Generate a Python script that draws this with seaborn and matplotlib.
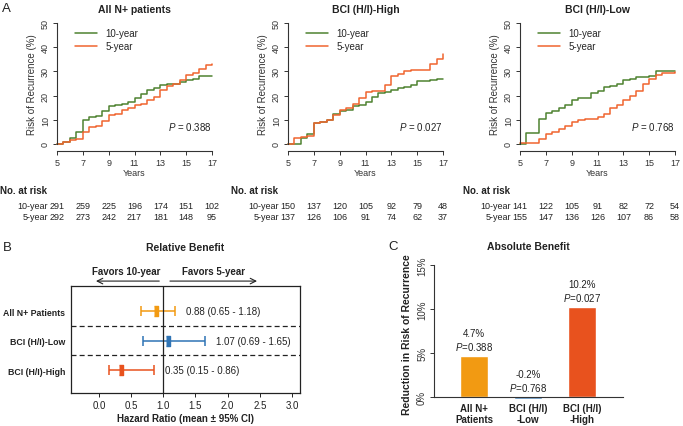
import numpy as np
import pandas as pd
import matplotlib
matplotlib.use("Agg")
import matplotlib.pyplot as plt
import matplotlib.transforms as mtransforms
import seaborn as sns

# ---------------- data ----------------
years = [5, 5.5, 6, 6.5, 7, 7.5, 8, 8.5, 9, 9.5, 10, 10.5, 11, 11.5, 12, 12.5,
         13, 13.5, 14, 14.5, 15, 15.5, 16, 16.5, 17]

all_10 = [0, 1, 2.5, 5, 10, 11, 11.5, 13.5, 15.5, 16, 16.5, 17.5, 19, 20.5, 22.5, 23,
          24.5, 25, 25, 25.5, 26.5, 27, 28, 28.3, 28.3]
all_5 = [0, 1, 1.5, 2, 5, 7, 7.5, 9.5, 12, 12.5, 14, 15, 16, 16.5, 18, 19.5,
         22.5, 24, 25, 26.5, 28.5, 29.5, 31, 32.5, 33]
high_10 = [0, 0, 2.5, 4, 8.5, 9, 10, 12.5, 13.5, 14, 15.5, 16, 17.5, 19.5, 21, 21.5,
           22.5, 23, 23.5, 24.5, 26, 26, 26.5, 27, 27]
high_5 = [0, 2.5, 3, 3.5, 8.5, 9, 10, 12, 14, 15, 16.5, 19, 21.5, 22, 22, 24.5,
          28, 29, 30, 30.5, 30.5, 30.5, 33, 35, 37]
low_10 = [0, 4.5, 4.5, 10.5, 13, 13.5, 15, 16, 18, 19, 19, 21, 22, 23.5, 24, 25,
          26.5, 27, 27.5, 27.5, 28, 30, 30, 30, 30]
low_5 = [0.5, 0.5, 0.5, 2, 4, 5, 6, 7.5, 9, 10, 10.5, 10.5, 11, 12.5, 15, 16,
         18, 20, 22, 25, 27, 28.5, 29.5, 29.5, 29.7]

km_titles = ["All N+ patients", "BCI (H/I)-High", "BCI (H/I)-Low"]
km_pvals = ["0.388", "0.027", "0.768"]
risk_years = [5, 7, 9, 11, 13, 15, 17]
risk_10 = [[291, 259, 225, 196, 174, 151, 102],
           [150, 137, 120, 105, 92, 79, 48],
           [141, 122, 105, 91, 82, 72, 54]]
risk_5 = [[292, 273, 242, 217, 181, 148, 95],
          [137, 126, 106, 91, 74, 62, 37],
          [155, 147, 136, 126, 107, 86, 58]]

hr_groups = ["All N+ Patients", "BCI (H/I)-Low", "BCI (H/I)-High"]
hr_mean = [0.88, 1.07, 0.35]
hr_lo = [0.65, 0.69, 0.15]
hr_hi = [1.18, 1.65, 0.86]

ab_cats = ["All N+\nPatients", "BCI (H/I)\n-Low", "BCI (H/I)\n-High"]
ab_vals = [4.7, -0.2, 10.2]
ab_labels = ["4.7%", "-0.2%", "10.2%"]
ab_pvals = ["0.388", "0.768", "0.027"]

# ---------------- style ----------------
sns.set_theme(style="white")
plt.rcParams["font.family"] = ["Liberation Sans", "DejaVu Sans"]
plt.rcParams["mathtext.fontset"] = "custom"
plt.rcParams["mathtext.rm"] = "Liberation Sans"
plt.rcParams["mathtext.it"] = "Liberation Sans:italic"

GREEN = "#4E8230"
ORANGE = "#F0652F"
C_ALL = "#F29A12"
C_LOW = "#2F74B5"
C_HIGH = "#E8521E"
TXT = "#222222"

W, H = 683, 427
fig = plt.figure(figsize=(W / 100, H / 100), dpi=100)


def px_axes(l, t, r, b):
    return fig.add_axes([l / W, 1 - b / H, (r - l) / W, (b - t) / H])


def fy(py):
    return 1 - py / H


# ---------------- Panel A ----------------
km_data = [(all_10, all_5), (high_10, high_5), (low_10, low_5)]
lefts = [57, 288, 520]
for i in range(3):
    l = lefts[i]
    ax = px_axes(l, 24, l + 155, 145)
    d10, d5 = km_data[i]
    df = pd.DataFrame({
        "Years": years + years,
        "Risk": d10 + d5,
        "Group": ["10-year"] * len(years) + ["5-year"] * len(years),
    })
    sns.lineplot(data=df, x="Years", y="Risk", hue="Group",
                 palette={"10-year": GREEN, "5-year": ORANGE},
                 estimator=None, drawstyle="steps-post", lw=1.1, ax=ax)
    ax.set_xlim(5, 17)
    ax.set_ylim(0, 50)
    for ln in ax.lines:
        ln.set_clip_on(False)
    for s in ["top", "right"]:
        ax.spines[s].set_visible(False)
    ax.spines["bottom"].set_position(("outward", 5))
    ax.spines["bottom"].set_bounds(5, 17)
    ax.spines["left"].set_bounds(0, 50)
    for s in ["left", "bottom"]:
        ax.spines[s].set_color("#333333")
        ax.spines[s].set_linewidth(0.8)
    ax.set_xticks(risk_years)
    ax.set_yticks([0, 10, 20, 30, 40, 50])
    ax.tick_params(axis="both", direction="out", length=3, width=0.7,
                   labelsize=6.5, colors="#333333", pad=2)
    ax.tick_params(axis="both", bottom=True, left=True)
    for lab in ax.get_yticklabels():
        lab.set_rotation(90)
        lab.set_va("center")
    ax.set_xlabel("Years", fontsize=6.5, color="#333333", labelpad=1)
    ax.set_ylabel("Risk of Recurrence (%)", fontsize=7, color="#333333", labelpad=3)
    ax.set_title(km_titles[i], fontsize=7.5, fontweight="bold", pad=8, color=TXT)
    ax.legend(loc="upper left", bbox_to_anchor=(0.06, 1.03), frameon=False,
              fontsize=7, handlelength=2.3, handletextpad=0.8,
              labelspacing=0.3, title=None)
    ax.text(1.0, 0.15, r"$\mathit{P}$ = " + km_pvals[i], transform=ax.transAxes,
            ha="right", va="center", fontsize=7, color=TXT)
    # number at risk
    tr = mtransforms.blended_transform_factory(ax.transData, fig.transFigure)
    fig.text((l - 57) / W, fy(191), "No. at risk", fontsize=7, fontweight="bold",
             ha="left", va="center", color=TXT)
    fig.text((l - 9) / W, fy(207), "10-year", fontsize=6.5, ha="right", va="center", color=TXT)
    fig.text((l - 9) / W, fy(218), "5-year", fontsize=6.5, ha="right", va="center", color=TXT)
    for yr, a, b in zip(risk_years, risk_10[i], risk_5[i]):
        ax.text(yr, fy(207), str(a), transform=tr, ha="center", va="center",
                fontsize=6.5, color=TXT, clip_on=False)
        ax.text(yr, fy(218), str(b), transform=tr, ha="center", va="center",
                fontsize=6.5, color=TXT, clip_on=False)

fig.text(2 / W, fy(9), "A", fontsize=9.5, ha="left", va="center", color=TXT)

# ---------------- Panel B ----------------
axb = px_axes(71, 287, 300, 394)
rows = [3, 2, 1]
colors_b = [C_ALL, C_LOW, C_HIGH]
mark = [(-0.45, -1), (0.45, -1), (0.45, 1), (-0.45, 1)]
for k in range(3):
    m = hr_mean[k]
    axb.errorbar([m], [rows[k]], xerr=[[m - hr_lo[k]], [hr_hi[k] - m]], fmt="none",
                 ecolor=colors_b[k], elinewidth=1.1, capsize=3.6, capthick=1.1)
    axb.plot([m], [rows[k]], marker=mark, markersize=7.5, color=colors_b[k],
             linestyle="none")
    axb.text(hr_hi[k] + 0.17, rows[k], f"{m:.2f} ({hr_lo[k]:.2f} - {hr_hi[k]:.2f})",
             ha="left", va="center", fontsize=7, color=TXT)
axb.axvline(1.0, color="#222222", lw=0.9)
for yy in [2.5, 1.5]:
    axb.axhline(yy, color="#222222", lw=0.9, ls=(0, (4, 2.5)))
axb.set_xlim(-0.435, 3.125)
axb.set_ylim(0.22, 3.85)
axb.set_xticks([0, 0.5, 1.0, 1.5, 2.0, 2.5, 3.0])
axb.set_xticklabels(["0.0", "0.5", "1.0", "1.5", "2.0", "2.5", "3.0"])
axb.set_yticks(rows)
axb.set_yticklabels(hr_groups, fontweight="bold")
axb.tick_params(axis="x", direction="out", length=3, width=0.7, labelsize=7,
                colors=TXT, bottom=True, pad=2)
axb.tick_params(axis="y", length=0, labelsize=6.3, colors=TXT, pad=4)
for s in axb.spines.values():
    s.set_color("#222222")
    s.set_linewidth(0.9)
axb.set_xlabel("Hazard Ratio (mean ± 95% CI)", fontsize=7, fontweight="bold",
               color=TXT, labelpad=2)
ay_arrow = 3 + (312 - 282) / 29.5
ay_text = 3 + (312 - 272) / 29.5
axb.annotate("", xy=(-0.09, ay_arrow), xytext=(0.98, ay_arrow),
             arrowprops=dict(arrowstyle="->", lw=0.8, color="#222222",
                             mutation_scale=10), annotation_clip=False)
axb.annotate("", xy=(2.5, ay_arrow), xytext=(1.06, ay_arrow),
             arrowprops=dict(arrowstyle="->", lw=0.8, color="#222222",
                             mutation_scale=10), annotation_clip=False)
axb.text(0.43, ay_text, "Favors 10-year", ha="center", va="center", fontsize=7,
         fontweight="bold", color=TXT, clip_on=False)
axb.text(1.78, ay_text, "Favors 5-year", ha="center", va="center", fontsize=7,
         fontweight="bold", color=TXT, clip_on=False)
fig.text((300 + 71) / 2 / W, fy(248), "Relative Benefit", fontsize=7.5,
         fontweight="bold", ha="center", va="center", color=TXT)
fig.text(3 / W, fy(248), "B", fontsize=9.5, ha="left", va="center", color=TXT)

# ---------------- Panel C ----------------
axc = px_axes(434, 266, 623, 402.4)
dfc = pd.DataFrame({"cat": ab_cats, "val": ab_vals})
sns.barplot(data=dfc, x="cat", y="val", hue="cat",
            palette=dict(zip(ab_cats, [C_ALL, C_LOW, C_HIGH])),
            width=0.52, legend=False, ax=axc, saturation=1)
axc.set_xlim(-0.74, 2.76)
axc.set_ylim(-0.5, 15)
for s in ["top", "right"]:
    axc.spines[s].set_visible(False)
axc.spines["bottom"].set_position(("data", 0))
axc.spines["left"].set_bounds(0, 15)
for s in ["left", "bottom"]:
    axc.spines[s].set_color("#333333")
    axc.spines[s].set_linewidth(0.8)
axc.set_yticks([0, 5, 10, 15])
axc.set_yticklabels(["0%", "5%", "10%", "15%"])
axc.tick_params(axis="y", direction="out", length=3, width=0.7, labelsize=7,
                colors="#333333", left=True, pad=2)
for lab in axc.get_yticklabels():
    lab.set_rotation(90)
    lab.set_va("center")
axc.tick_params(axis="x", length=0, labelsize=7, colors=TXT, pad=4)
for lab in axc.get_xticklabels():
    lab.set_fontweight("bold")
axc.set_xlabel("")
axc.set_ylabel("Reduction in Risk of Recurrence", fontsize=7.5, fontweight="bold",
               color=TXT, labelpad=4)
for k in range(3):
    top = max(ab_vals[k], 0)
    axc.annotate(ab_labels[k], xy=(k, top), xytext=(0, 23), textcoords="offset pixels",
                 ha="center", va="center", fontsize=7, color=TXT)
    axc.annotate(r"$\mathit{P}$=" + ab_pvals[k], xy=(k, top), xytext=(0, 10),
                 textcoords="offset pixels", ha="center", va="center",
                 fontsize=7, color=TXT)
fig.text((434 + 623) / 2 / W, fy(247), "Absolute Benefit", fontsize=7.5,
         fontweight="bold", ha="center", va="center", color=TXT)
fig.text(388 / W, fy(247), "C", fontsize=9.5, ha="left", va="center", color=TXT)

fig.savefig("out.png", dpi=100)
